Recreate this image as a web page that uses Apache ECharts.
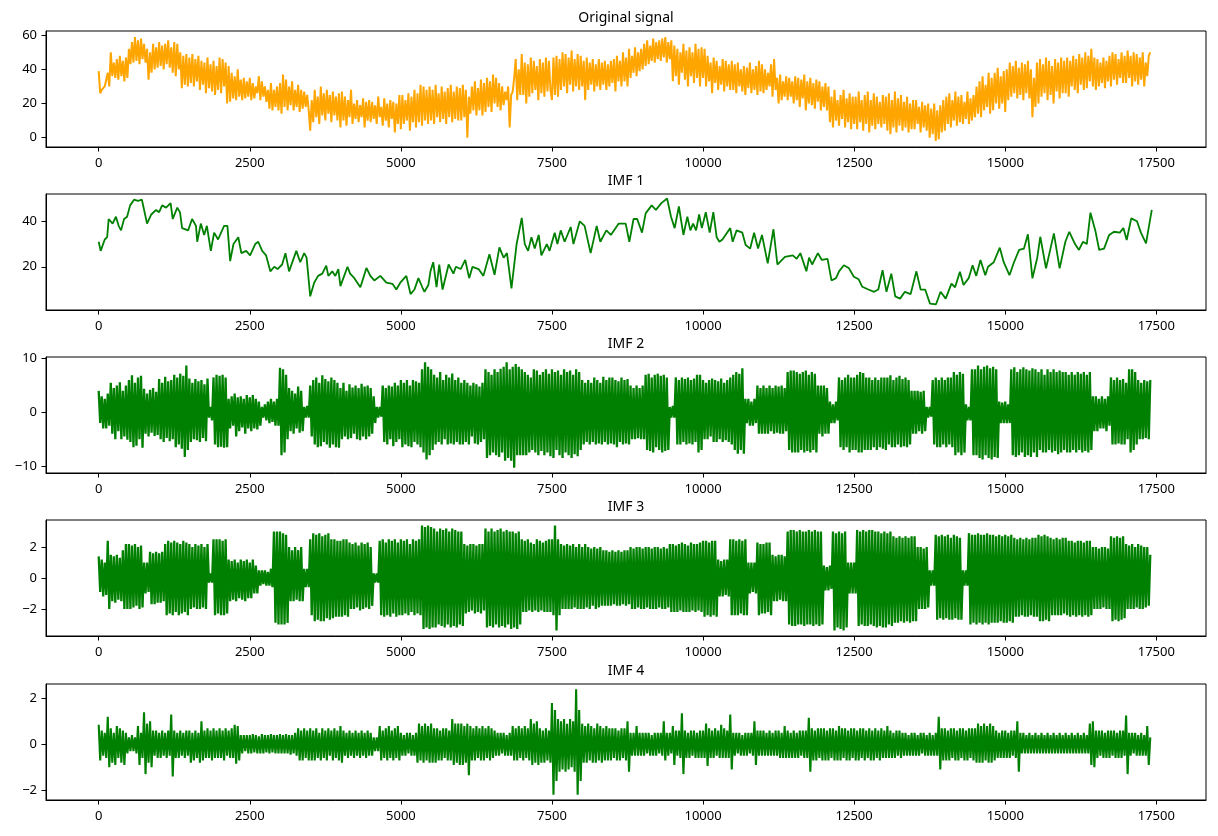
<!DOCTYPE html>
<html>
<head>
<meta charset="utf-8">
<script src="https://cdn.jsdelivr.net/npm/echarts@6/dist/echarts.min.js"></script>
<style>
html,body{margin:0;padding:0;background:#fff;}
#chart{width:1218px;height:836px;}
</style>
</head>
<body>
<div id="chart"></div>
<script>
// ---------- data ----------
const titles = ['Original signal', 'IMF 1', 'IMF 2', 'IMF 3', 'IMF 4'];
const xTicks = [0, 2500, 5000, 7500, 10000, 12500, 15000, 17500];
const yTicks0 = [0, 20, 40, 60];
const yTicks1 = [20, 40];
const yTicks2 = [-10, 0, 10];
const yTicks3 = [-2, 0, 2];
const yTicks4 = [-2, 0, 2];
const sampleStep = 25; // spacing of the sample index for the dense series

const origY = [
39,26,28,27,30,29,38,30,50,36,44,35,46,34,48,36,45,33,47,35,
52,43,56,44,59,45,57,43,58,46,55,44,52,34,50,38,55,40,53,41,
56,42,54,40,55,43,57,41,53,38,56,36,55,40,50,29,48,31,49,30,
47,32,49,30,46,33,48,28,45,31,44,26,47,29,43,27,45,25,42,28,
47,26,46,30,44,20,42,21,38,23,36,22,40,24,34,22,35,23,33,24,
35,22,32,23,30,26,36,22,33,24,30,21,28,17,32,16,28,18,30,16,
32,14,37,18,34,16,30,19,33,16,28,18,31,15,28,17,27,18,25,16,
4,22,9,28,12,24,8,30,13,26,10,28,14,25,9,27,13,24,10,26,
6,27,10,24,7,22,12,28,8,20,11,22,9,19,12,23,6,21,10,22,
9,21,11,19,8,24,12,18,7,23,10,20,6,22,11,21,3,20,8,25,
5,25,8,22,10,26,4,24,9,28,6,26,9,31,7,30,10,28,8,30,
10,28,8,31,12,26,9,30,11,27,8,29,12,31,9,27,11,30,10,29,
10,31,12,28,0,24,14,30,16,33,13,29,16,34,13,32,15,35,18,33,
15,37,20,35,18,32,16,30,19,27,22,30,6,25,27,35,46,22,40,25,
49,25,44,20,43,24,47,26,45,28,42,22,46,26,44,24,47,27,45,28,
22,47,25,48,24,46,28,50,30,49,26,47,31,51,27,46,30,49,28,48,
30,45,22,47,28,44,31,46,27,43,30,46,28,44,31,45,28,43,30,45,
32,46,27,48,33,45,30,50,33,47,30,52,35,48,38,53,36,50,39,52,
40,55,42,57,43,54,45,58,44,56,46,57,45,58,47,59,44,56,46,57,
33,54,36,52,31,50,38,55,34,51,30,53,36,50,32,55,35,52,30,53,
35,52,30,48,33,44,26,47,32,45,28,42,31,46,27,45,30,43,28,45,
28,43,26,44,30,40,27,42,25,41,29,44,26,40,28,42,25,45,27,43,
26,40,28,38,30,43,24,46,28,35,20,37,22,33,24,36,22,35,24,33,
20,36,22,35,18,34,23,37,16,33,20,35,19,32,17,34,21,33,16,30,
18,32,16,30,9,24,6,28,10,22,7,25,11,28,6,23,9,26,5,24,
8,24,5,27,9,22,4,25,8,27,3,22,7,26,5,24,8,21,6,25,
8,24,4,26,2,22,6,27,3,23,7,25,4,21,6,24,3,20,5,22,
5,22,8,18,3,21,6,19,4,20,0,17,2,20,-2,16,-1,19,3,22,
4,24,8,26,6,22,10,27,7,24,9,25,8,21,11,27,8,23,10,25,
12,30,14,33,12,36,16,31,18,38,14,35,16,38,20,41,17,36,20,39,
15,40,22,44,24,42,26,45,23,41,25,44,22,43,26,45,23,40,12,35,
18,44,20,46,24,43,26,47,22,45,25,42,20,46,27,44,23,47,26,45,
26,47,24,45,30,48,28,46,26,49,31,47,28,50,29,48,33,52,30,47,
28,46,30,44,32,47,29,45,33,48,30,50,34,49,31,46,35,50,32,48,
32,51,35,48,30,50,33,49,31,47,34,50,30,44,36,48,50
];

const imf1X = [
0,33,100,140,165,230,285,330,370,420,470,520,585,650,715,800,870,950,1000,1050,
1115,1190,1225,1300,1345,1380,1480,1545,1610,1630,1690,1745,1790,1855,1910,1975,2075,2130,2175,2230,
2310,2360,2440,2505,2590,2640,2705,2770,2840,2905,2960,3035,3090,3150,3270,3335,3400,3440,3500,3565,
3630,3700,3765,3800,3865,3915,3965,4000,4117,4160,4230,4330,4430,4495,4560,4660,4760,4860,4925,4990,
5090,5160,5225,5290,5355,5390,5455,5490,5535,5590,5635,5690,5790,5870,5910,5990,6065,6130,6185,6285,
6365,6465,6550,6630,6700,6755,6830,6915,6960,7000,7050,7105,7160,7215,7280,7325,7415,7460,7545,7590,
7645,7710,7810,7855,7960,8040,8140,8240,8300,8400,8475,8605,8720,8780,8850,8910,8990,9050,9150,9220,
9310,9405,9470,9530,9600,9675,9740,9790,9835,9885,9935,9980,10045,10110,10170,10225,10270,10320,10450,10490,
10555,10650,10705,10780,10845,10910,10975,11070,11165,11230,11355,11485,11550,11610,11710,11755,11805,11900,11965,12060,
12125,12200,12250,12330,12410,12495,12575,12635,12735,12830,12900,12970,13035,13115,13180,13260,13340,13435,13530,13600,
13675,13755,13855,13930,14015,14110,14170,14250,14310,14395,14460,14520,14590,14670,14715,14810,14910,14975,15070,15145,
15230,15310,15375,15450,15530,15580,15675,15805,15900,15995,16060,16155,16220,16285,16350,16410,16490,16555,16635,16720,
16800,16895,16955,17010,17085,17180,17245,17330,17360,17425
];
const imf1Y = [
31,27,32,33,41,39,42,38,36,41,42,47,49.5,49,49.5,39,43,45,44,47,
46,48,41,46,44,37,36,41,38,31,39,34,38,27,35,32,38,38,22.5,30,
33,26,27,25,30,31,27,25,18,20,19,21,26,18,27,22,26,24,7,13,
16,17,20.5,16,18,16,19,11.5,20,17,15,11,19.5,16,14,16,13,12.5,10,13,
16,8,10,15,11,9,12,18,22,11,21,10,21,17,20,19,23,15,20,19,
16,25.5,16.5,28.5,24,26,10.5,30,36,41.5,30,27,33,28,34,25,30,27,35,30,
36,31,37.5,30,40,38,26,38,31,36,34,39,39,31,41,41,35,43.5,47,45,
48,50,42,37,46.5,34,42,36,39,36,43,37,44,35,44,33,31,32,37,31,
36,35,29.6,28,35,28,34,21.5,36.5,21,24.4,25,23.5,26,18,24,21,26,23,23.5,
14,15,18,20.7,19.5,15.6,14.5,11.2,10,9,10,18.5,9,17,7,6,9,8,18,10,
10,3.8,3.5,9,6,12.6,11,17.8,12,15,20.7,16,23,16.3,20,22,28.4,22,16.3,22,
27.4,28,34.3,14.9,24,33.2,19.3,34.7,19.3,31,35.4,30,27.4,31,30,43.8,36,27.4,28,34,
35.4,35,37,31.8,41.3,40,35,30.3,35,45
];

const imf2Y = [
4,-2,3,-3,2.5,-3,3.5,-2.5,5.5,-4,4.5,-5,5,-3.5,5.6,-5,4,-4.5,5,-5.1,
6,-5.5,6.9,-6.5,5.5,-6.2,6.5,-5,6.8,-6.6,4.4,-4,3.5,-4.5,4.2,-3.8,4.5,-4.4,3.8,-4.2,
6.2,-5,5.5,-5.5,6.6,-4.8,5.8,-5.4,6,-5,7,-6.5,6.5,-6,7.2,-6.8,6.8,-8.3,8.7,-7,
6.3,-5.5,5.5,-5,6.2,-5.2,5.8,-5.5,6,-4.8,5.2,-5.4,6.3,-1,1,-1.5,6.5,-6,7,-6.5,
6.8,-6.4,7,-6.6,6.5,-6.5,2.5,-3,3,-2.5,3.5,-4.5,2.8,-3.5,3,-2.8,2.5,-4,3.2,-3,
2.8,-3.5,3.2,-3,2.5,-3.2,2,-2.5,1,-1,1.5,-1.5,2,-2,2.5,-1.8,2,-2.5,2.5,-2.5,
8.3,-8,8,-7.5,7,-5,4.5,-3.5,4,-4,3.5,-3,4.8,-3.8,4,-3.5,1,-1,1.2,-1,
5,-4.5,6,-6,6.5,-6.5,5.5,-6.3,6.9,-5.5,6.2,-6,5.8,-6.6,6.5,-6,6,-6.5,5.5,-6.6,
4.5,-5,5.5,-4.5,4,-5,5.2,-4.8,4.6,-4,5,-5,4.5,-5.2,5.3,-4.5,4.8,-5,5,-4.5,
4.5,-4,3,-2,1,-1,1,-0.8,5,-5.5,4.5,-6,5,-5,4.8,-6.3,5.5,-5.5,5,-5,
6,-6.5,5.5,-6,6,-6.3,5,-6.5,6,-5.5,5.8,-6,5.5,-6.5,8,-7.5,9.3,-8.8,8.5,-8,
8,-7,7,-6,6.5,-5.5,7.5,-6,6,-5,7,-6,6.5,-5.8,7.2,-6,6,-5.5,6.5,-6,
5.5,-6,6,-5.5,5.5,-6,5,-4.5,5.5,-5.8,5.2,-6,4.8,-5.5,5.5,-5,8,-8.5,7.5,-8,
7,-7.5,8,-8,7.5,-8.3,8.1,-7.5,8.5,-9,9.3,-8.5,8,-9,8.5,-10.3,9,-8,8.5,-8,
8,-8,7.5,-8,7,-7.5,6.5,-7,8,-7.5,7.8,-8,7,-7.2,7.5,-8,8,-7.5,7.2,-8.2,
8,-8.5,7.5,-7,7.8,-8,7,-8.5,8,-7.5,7.5,-8,7.8,-8.5,7,-7.8,8,-8.2,7.5,-7,
6,-6,5.5,-5.5,6,-6,5.5,-5.5,6.5,-6,6,-5.8,5.5,-6,6.6,-5.5,6,-6,6.5,-5.8,
6.5,-6,6,-6.5,5.8,-5.5,6.5,-6,6,-5.8,6.2,-6,5,-5,4.5,-5,5,-4.8,4.5,-5,
5,-5,7,-7,7.2,-7.2,6.5,-7.5,7,-6.5,7.2,-7,6.8,-7.5,7,-7.2,6.5,-7,1,-1,
1.2,-1,6.5,-6,6,-6,6.5,-5.5,6.2,-6,6.5,-5.8,6,-6,6.3,-5.5,7,-7.5,7,-7,
6,-5,5.5,-5,6,-4.5,6.3,-5.5,6,-5.5,5.8,-5,6.3,-5.5,5.5,-5.2,6,-5.5,6.5,-6,
7,-7,7.5,-7.7,7.2,-7,8.2,-7.7,2.5,-2,2.5,-2.5,2,-2.5,2.5,-2,5,-4,4.5,-4,
5,-4,4.5,-4,5,-3.5,4.5,-4,5,-3.8,4.8,-4,5,-4,4.5,-3.5,7.5,-7,7.8,-7.5,
7.8,-7.5,7.5,-7.5,7.2,-7,7.5,-7.5,7.8,-7.2,7,-7.5,7.5,-7,7.2,-7.5,5,-4,5,-4.5,
5,-4,4.5,-4,2,-2,1.5,-2,2,-1.5,6.5,-6.5,6,-7,6.5,-6.5,7,-7.5,6.5,-7,
6.5,-7,7,-7.5,7.5,-7.5,7.3,-7,6.5,-7,6.5,-7,6,-6.5,6.5,-7,6,-6.5,6.5,-6.8,
6.5,-7,6.5,-6,6.9,-6.5,6,-6.5,6.5,-6,6.8,-6.5,6.2,-6.3,6.5,-6.5,6,-6,4,-4,
4,-4,4,-3.5,3.8,-4,4,-3.5,1,-1,1,-0.8,6,-6,6.5,-6.5,6,-6.5,6.5,-6,
6,-6.5,6.5,-6,6.5,-6.5,7.5,-8,7,-7.5,7.5,-8,7.2,-7.5,1.5,-1.5,1,-1.5,8,-8,
8,-8,8.7,-8.5,8,-8.8,8.5,-8,8.7,-8.5,8.2,-8.8,8.5,-8.3,8,-8.5,2,-2,1.8,-2,
2,-2,1.5,-2,8,-8,8.4,-8.3,7.5,-8,8,-7.5,8.4,-8.3,8,-8,7.8,-8.3,8.2,-7.5,
8,-8.3,7.5,-7,8,-7.5,7,-7.5,8,-7,7.5,-7.5,8,-7.2,7.5,-7.8,7.8,-7.5,7.5,-7,
7.5,-7.5,7,-7.5,7.5,-7,7,-7.5,7.5,-7,7.2,-7.5,7.5,-7.2,7,-7.5,7.5,-7,3,-3.5,
3,-3.5,2.5,-3,3,-3,2.5,-3.5,3,-2.5,6.5,-6,6,-6,6.5,-5.8,6,-6,6.2,-6,
5.5,-5,8,-7.5,8,-7,7.5,-6,6,-5,5.5,-5,6,-4.8,5.8,-5,6
];

const imf3Y = [
1.4,-0.9,1.2,-1.2,1,-1.1,2.4,-2,1.5,-1.5,1.4,-1.6,1.5,-1.4,1.3,-1.5,1.8,-2,2.2,-2,
2.2,-2,2.1,-1.9,2.2,-1.8,2,-2,2.1,-1.9,1,-1,1,-0.9,1.7,-1.7,1.6,-1.7,1.7,-1.6,
1.6,-1.6,1.7,-1.5,2.2,-2.4,2.4,-2.3,2.3,-2.4,2.4,-2.2,2.3,-2.4,2.2,-2.3,2.4,-2.2,2.3,-2.4,
2.2,-2,2,-1.9,2.2,-2,2.1,-2,2.2,-1.9,2,-2,2.2,-0.3,0.3,-0.3,2.5,-2.4,2.5,-2.3,
2.5,-2.4,2.4,-2.4,2.5,-2.3,1.2,-1.5,1.1,-1.4,1.2,-1.5,1,-1.3,1.2,-1.4,1.1,-1.5,1.2,-1.3,
1,-1.3,1.2,-1,0.8,-1,0.5,-0.5,0.5,-0.4,0.5,-0.5,0.4,-0.5,0.6,-0.6,3,-2.9,3,-3,
3,-3,2.9,-3,2.8,-2.9,2,-1.5,1.8,-1.5,2,-1.4,1.8,-1.5,2,-1.5,0.6,-0.6,0.6,-0.6,
2.5,-2.4,2.9,-2.8,2.8,-2.7,2.9,-2.8,2.7,-2.8,2.8,-2.6,2.9,-2.7,2.5,-2.6,2.5,-2.5,2.4,-2.5,
2.4,-2.5,2.5,-2.4,2.5,-2.5,2.3,-2,2.2,-2,2.3,-1.9,2.1,-2.1,2.3,-2,2.2,-1.9,2.3,-2,
2,-1.8,0.3,-0.3,0.3,-0.3,2.4,-2.4,2.5,-2.5,2.3,-2.4,2.5,-2.5,2.4,-2.3,2.5,-2.5,2.3,-2.4,
2.5,-2.4,2.4,-2.3,2.5,-2.4,2.2,-2.2,2.5,-2.4,2.4,-2.3,2.5,-2.4,3.4,-3.3,3.3,-3.2,3.4,-3.3,
3.3,-3.2,3.2,-3.2,3,-3,3.2,-3.1,3.1,-3.2,3.2,-3,3,-3.2,3.2,-3.1,3.1,-3.2,3,-3,
3,-3.1,2.2,-2.3,2.1,-2.2,2.2,-2.1,2.2,-2.3,2.1,-2.2,2.2,-2.3,2.2,-2.1,3.2,-3.2,3,-3.1,
3.2,-3.2,3,-3,3.1,-3.2,3.2,-3.1,3,-3.2,3.1,-3,3,-3.3,3,-3.2,2.9,-3.3,3,-3,
2.5,-2.2,2.4,-2.2,2.5,-2.1,2.3,-2.2,2.2,-2.1,2.5,-2.2,2.4,-2.1,2.3,-2.2,2.4,-2.2,2.5,-2.2,
2.5,-2.4,3.4,-3.4,2.5,-2.4,2.2,-2,2.1,-2,2.2,-2,2.1,-2,2.2,-1.9,2,-2,2.2,-2,
2,-2,2.2,-1.9,2,-2,1.9,-1.8,2,-2,1.9,-1.9,2,-1.8,1.8,-1.8,1.8,-1.8,1.7,-1.8,
1.8,-1.7,1.7,-1.8,1.8,-1.8,1.7,-1.7,1.8,-1.8,1.8,-1.7,2,-2,1.9,-2,2,-1.9,2,-2,
1.9,-2,2,-1.9,2,-2,1.9,-2,2,-2,2,-1.9,1.9,-2,2,-2,1.9,-1.9,2.2,-2.2,
2.2,-2.2,2.1,-2.2,2.2,-2.1,2.3,-2.2,2.2,-2.2,2.1,-2.2,2.3,-2.1,2.2,-2.2,2.2,-2.1,2.3,-2.2,
2.4,-2.5,2.4,-2.4,2.3,-2.5,2.4,-2.4,2.4,-2.5,1.2,-1.2,1.1,-1.2,1.2,-1.1,1.2,-1.2,2.5,-2.4,
2.5,-2.4,2.4,-2.4,2.5,-2.3,2.4,-2.4,2.5,-2.4,1,-1,1,-0.9,1,-1,2.3,-2.4,2.2,-2.3,
2.2,-2.3,2.3,-2.2,2.3,-2.4,1.5,-1.5,1.4,-1.5,1.5,-1.4,1.5,-1.5,1.4,-1.5,3,-3,3.1,-3.1,
3.1,-3.1,3,-3,3.1,-3,3,-3.1,3,-3,3.1,-3,3,-3.1,3.1,-3,3,-3.1,3,-3,
0.8,-0.8,0.7,-0.8,0.8,-0.7,3,-3.4,2.9,-3.2,3,-3.3,2.9,-3.4,3,-3.2,1,-1,1,-1,
1,-1,3.1,-3.1,3,-3,3.1,-3.1,3,-3.1,3.1,-3,3.1,-3.1,3,-3.2,3,-3.1,2.9,-3.2,
3,-3.2,2.9,-3,3,-3.1,2.7,-2.9,2.6,-2.9,2.7,-2.8,2.6,-2.9,2.7,-2.8,2.6,-2.9,2.7,-2.8,
2.7,-2.8,2,-2,2,-2,1.9,-2,2,-1.9,0.5,-0.5,0.5,-0.5,2.8,-2.7,2.7,-2.6,2.8,-2.7,
2.7,-2.6,2.8,-2.7,2.6,-2.7,2.8,-2.6,2.7,-2.7,2.6,-2.7,0.5,-0.5,0.5,-0.5,2.9,-3,2.8,-2.9,
2.8,-3,2.9,-2.9,2.8,-3,2.8,-2.9,2.9,-3,2.8,-2.9,2.8,-2.9,2.7,-2.9,2.8,-2.8,2.7,-2.9,
2.8,-2.9,2.7,-2.8,2.8,-2.9,2.6,-2.5,2.5,-2.5,2.6,-2.4,2.5,-2.5,2.6,-2.5,2.5,-2.4,2.6,-2.5,
2.6,-2.5,2.8,-2.8,2.7,-2.8,2.8,-2.7,2.7,-2.8,2.6,-2.4,2.5,-2.4,2.6,-2.4,2.5,-2.4,2.6,-2.3,
2.6,-2.4,2.4,-2.5,2.4,-2.4,2.3,-2.5,2.4,-2.4,2.4,-2.5,2.3,-2.4,2.4,-2.5,2.4,-2.4,2,-2,
2,-2,1.9,-2,2,-1.9,2,-2,1.9,-2,2.7,-2.8,2.6,-2.7,2.7,-2.8,2.6,-2.7,2.7,-2.6,
2.2,-2,2.1,-2,2.2,-2,2,-1.9,2.2,-2,2.1,-2,2,-1.9,2,-1.8,1.5
];

const imf4Y = [
0.85,-0.7,0.6,-0.5,0.5,-0.6,1.2,-1,0.7,-0.8,0.5,-0.9,0.8,-0.6,0.7,-0.8,0.6,-0.9,0.5,-0.4,
0.3,-0.3,0.4,-0.3,0.3,-0.4,0.8,-0.9,0.5,-0.6,1.4,-1.3,0.9,-0.8,1,-1,0.6,-0.5,0.6,-0.6,
0.5,-0.6,0.6,-0.5,0.5,-0.6,0.6,-0.5,1.3,-1.4,0.6,-0.6,0.5,-0.6,0.6,-0.5,0.5,-0.6,0.6,-0.5,
0.6,-0.8,0.5,-0.7,0.6,-0.6,0.5,-0.8,1,-0.7,0.6,-0.6,0.7,-0.6,0.6,-0.7,0.7,-0.6,0.6,-0.6,
0.7,-0.6,0.6,-0.7,0.7,-0.5,0.6,-0.6,0.7,-0.6,0.85,-0.85,0.8,-0.7,0.4,-0.4,0.4,-0.3,0.4,-0.4,
0.4,-0.4,0.45,-0.35,0.4,-0.4,0.35,-0.4,0.45,-0.4,0.4,-0.35,0.4,-0.4,0.45,-0.35,0.4,-0.4,0.4,-0.4,
0.45,-0.4,0.4,-0.4,0.45,-0.4,0.4,-0.45,0.4,-0.4,0.5,-0.5,0.7,-0.7,0.6,-0.7,0.7,-0.6,0.6,-0.7,
0.7,-0.7,0.6,-0.7,0.7,-0.6,0.5,-0.7,0.7,-0.6,0.6,-0.7,0.7,-0.5,0.6,-0.7,0.7,-0.6,0.6,-0.7,
0.8,-0.8,0.6,-0.5,0.5,-0.6,0.6,-0.5,0.5,-0.6,0.6,-0.5,0.5,-0.6,0.6,-0.5,0.5,-0.6,0.6,-0.5,
0.5,-0.5,0.3,-0.3,0.3,-0.3,0.8,-0.7,0.6,-0.6,0.7,-0.7,0.8,-0.6,0.6,-0.7,0.7,-0.6,0.8,-0.7,
0.5,-0.5,0.4,-0.5,0.5,-0.4,0.5,-0.5,0.4,-0.5,0.5,-0.8,0.9,-0.7,0.8,-0.8,0.9,-0.7,0.8,-0.8,
0.9,-0.8,0.7,-0.8,0.7,-0.7,0.6,-0.7,0.7,-0.6,0.7,-0.7,0.6,-0.7,1.1,-0.9,0.9,-0.8,0.9,-0.9,
0.9,-0.9,0.8,-0.8,0.9,-1.35,0.8,-0.7,0.7,-0.7,0.8,-0.6,0.7,-0.7,0.8,-0.7,0.7,-0.6,0.8,-0.7,
0.7,-0.6,0.6,-0.5,0.5,-0.5,0.5,-0.4,0.5,-0.5,0.4,-0.5,0.5,-0.5,0.8,-0.7,0.7,-0.7,0.8,-0.6,
0.7,-0.7,0.8,-0.6,0.7,-0.7,1.1,-0.9,0.9,-0.8,1,-0.9,0.7,-0.8,0.6,-0.8,0.7,-0.7,0.6,-0.8,
1.8,-2.2,1.5,-1.6,1.1,-1.2,1,-1.1,1.1,-1.2,0.9,-1.1,1.1,-1,1,-1.2,2.4,-2.2,1.5,-1.6,
0.9,-0.8,0.8,-0.8,0.9,-0.7,0.8,-0.8,0.7,-0.8,0.9,-0.7,0.8,-0.8,0.7,-0.7,0.8,-0.7,0.7,-0.7,
0.7,-0.6,0.7,-0.7,0.6,-0.7,0.7,-0.6,0.7,-0.7,1,-1.2,0.5,-0.5,0.5,-0.5,0.8,-0.5,0.5,-0.5,
0.5,-0.5,0.5,-0.4,0.5,-0.5,0.4,-0.5,0.5,-0.5,0.5,-0.4,0.5,-0.5,1,-0.7,0.5,-0.5,0.5,-0.4,
0.8,-0.9,0.6,-0.5,0.6,-0.6,1.35,-1.3,0.6,-0.6,0.5,-0.6,0.6,-0.5,0.6,-0.6,0.5,-0.6,0.6,-0.6,
0.6,-0.6,0.9,-0.95,0.7,-0.6,0.6,-0.6,0.7,-0.5,0.6,-0.6,0.85,-0.6,0.7,-0.6,0.6,-0.6,1.3,-1.1,
0.5,-0.5,0.5,-0.4,0.5,-0.5,0.4,-0.5,0.5,-0.5,0.5,-0.4,0.5,-0.5,1,-0.9,0.6,-0.5,0.6,-0.5,
0.6,-0.5,0.5,-0.5,0.6,-0.5,0.5,-0.5,0.6,-0.5,0.6,-0.6,0.5,-0.6,0.8,-0.6,0.6,-0.6,0.5,-0.6,
0.6,-0.6,0.5,-0.6,0.6,-0.5,0.6,-0.6,0.6,-0.6,1.16,-1.2,0.7,-0.7,0.6,-0.7,0.7,-0.6,0.7,-0.7,
0.7,-0.7,0.6,-0.7,0.7,-0.6,0.7,-0.7,0.6,-0.7,0.8,-0.7,0.7,-0.6,0.7,-0.7,0.6,-0.7,0.7,-0.6,
0.7,-0.7,0.6,-0.7,0.7,-0.6,0.7,-0.7,0.6,-0.6,0.7,-0.7,0.6,-0.7,0.7,-0.6,0.6,-0.7,0.7,-0.6,
0.6,-0.6,0.8,-0.6,0.6,-0.6,0.5,-0.6,0.6,-0.5,0.6,-0.6,0.5,-0.5,0.5,-0.5,0.4,-0.5,0.5,-0.5,
0.5,-0.5,0.4,-0.5,0.5,-0.4,0.5,-0.5,0.4,-0.5,0.5,-0.5,0.4,-0.5,0.5,-0.5,1.2,-1.1,0.7,-0.7,
0.7,-0.7,0.6,-0.7,0.7,-0.6,0.7,-0.7,0.6,-0.7,0.7,-0.6,0.7,-0.7,0.6,-0.7,0.7,-0.6,0.7,-0.7,
0.7,-0.8,0.9,-0.8,0.8,-0.8,0.9,-0.7,0.8,-0.8,0.9,-0.8,0.8,-0.7,0.6,-0.6,0.5,-0.6,0.6,-0.6,
0.6,-0.6,0.5,-0.6,0.6,-0.5,0.6,-0.6,1,-1.2,0.5,-0.4,0.5,-0.4,0.4,-0.4,0.5,-0.4,0.4,-0.4,
0.5,-0.4,0.4,-0.4,0.5,-0.4,0.4,-0.4,0.5,-0.4,0.4,-0.4,0.5,-0.4,0.4,-0.4,0.5,-0.4,0.4,-0.4,
0.5,-0.4,0.4,-0.4,0.5,-0.4,0.4,-0.4,0.5,-0.4,0.4,-0.4,0.5,-0.4,0.4,-0.4,0.9,-0.9,1,-1,
0.6,-0.6,0.6,-0.5,0.6,-0.6,0.5,-0.6,0.6,-0.6,0.6,-0.5,0.6,-0.6,0.5,-0.6,0.6,-0.6,0.6,-0.5,
1.25,-1.3,0.5,-0.5,0.5,-0.4,0.5,-0.5,0.4,-0.5,0.5,-0.5,0.4,-0.5,0.8,-0.9,0.3
];

// ---------- chart ----------
const FONT = '"Noto Sans", "DejaVu Sans", sans-serif';
const ORANGE = '#FFA500';
const GREEN = '#008000';

const gridTops = [31, 194, 357, 520, 684];
const gridLeft = 46, gridWidth = 1160, gridHeight = 116;
const yRanges = [[-5.5, 62.5], [1.0, 52], [-11.3, 10.3], [-3.75, 3.75], [-2.43, 2.63]];
const yTickSets = [yTicks0, yTicks1, yTicks2, yTicks3, yTicks4];
const xMin = -872, xMax = 18322;

function fmt(v) { return v < 0 ? '\u2212' + Math.abs(v) : String(v); }
function indexed(arr) { return arr.map((v, i) => [i * sampleStep, v]); }

const seriesData = [
  indexed(origY),
  imf1X.map((x, i) => [x, imf1Y[i]]),
  indexed(imf2Y),
  indexed(imf3Y),
  indexed(imf4Y)
];
const colors = [ORANGE, GREEN, GREEN, GREEN, GREEN];
const widths = [2.0, 1.8, 2.3, 2.3, 2.1];

const option = {
  animation: false,
  backgroundColor: '#fff',
  grid: gridTops.map(t => ({
    left: gridLeft, top: t, width: gridWidth, height: gridHeight,
    show: true, borderColor: '#000', borderWidth: 1, backgroundColor: 'transparent',
    containLabel: false, outerBoundsMode: 'none'
  })),
  xAxis: gridTops.map((t, i) => ({
    type: 'value', gridIndex: i, min: xMin, max: xMax,
    axisLine: { show: true, onZero: false, lineStyle: { color: '#000', width: 1 } },
    axisTick: { show: true, length: 4.5, customValues: xTicks, lineStyle: { color: '#000', width: 1 } },
    axisLabel: { customValues: xTicks, margin: 10, color: '#000', fontSize: 13, fontFamily: FONT, formatter: fmt },
    splitLine: { show: false }
  })),
  yAxis: gridTops.map((t, i) => ({
    type: 'value', gridIndex: i, min: yRanges[i][0], max: yRanges[i][1],
    axisLine: { show: true, onZero: false, lineStyle: { color: '#000', width: 1 } },
    axisTick: { show: true, length: 4.5, customValues: yTickSets[i], lineStyle: { color: '#000', width: 1 } },
    axisLabel: { customValues: yTickSets[i], margin: 9, color: '#000', fontSize: 13, fontFamily: FONT, formatter: fmt },
    splitLine: { show: false }
  })),
  graphic: gridTops.map((t, i) => ({
    type: 'text', x: gridLeft + gridWidth / 2, y: t - 13, silent: true,
    style: {
      text: titles[i], fill: '#000', font: '14px ' + FONT,
      align: 'center', verticalAlign: 'middle', textAlign: 'center', textVerticalAlign: 'middle'
    }
  })),
  series: seriesData.map((d, i) => ({
    type: 'line', xAxisIndex: i, yAxisIndex: i, data: d,
    showSymbol: false, symbol: 'none', sampling: null,
    lineStyle: { color: colors[i], width: widths[i] },
    itemStyle: { color: colors[i] },
    emphasis: { disabled: true }, silent: true
  }))
};

const chart = echarts.init(document.getElementById('chart'), null, { renderer: 'canvas' });
chart.setOption(option);
</script>
</body>
</html>
